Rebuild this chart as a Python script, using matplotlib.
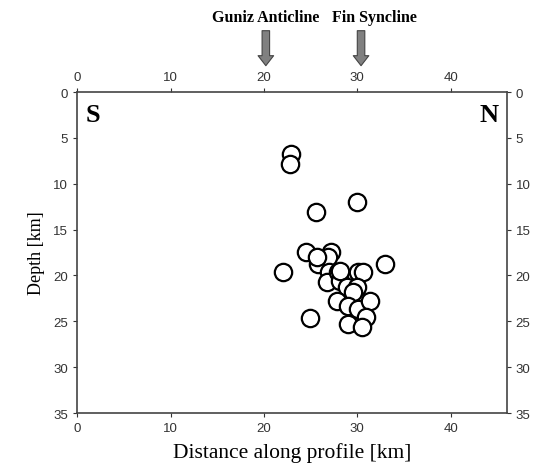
"""
Perfil sismico S-N: profundidad vs distancia
"""
import matplotlib
matplotlib.use('Agg')
import matplotlib.pyplot as plt

# Datos: eventos (distancia a lo largo del perfil, profundidad)
dist_km = [22.87, 22.8, 25.55, 29.95, 22.0, 24.94, 32.98, 24.51, 27.16, 25.83,
           26.9, 25.66, 27.0, 26.73, 27.97, 28.16, 30.12, 30.59, 28.16, 28.87,
           29.95, 29.58, 27.8, 29.05, 30.12, 31.37, 30.94, 29.05, 30.48]
depth_km = [6.76, 7.85, 13.05, 11.96, 19.66, 24.65, 18.76, 17.48, 17.48, 18.76,
            18.03, 18.03, 19.66, 20.75, 19.66, 20.58, 19.66, 19.6, 19.49, 21.3,
            21.3, 21.84, 22.76, 23.3, 23.66, 22.76, 24.57, 25.3, 25.66]

structures = ['Guniz Anticline', 'Fin Syncline']
structure_x = [20.2, 30.4]
label_x = [20.2, 27.3]
label_ha = ['center', 'left']

xticks = [0, 10, 20, 30, 40]
yticks = [0, 5, 10, 15, 20, 25, 30, 35]

serif = 'Liberation Serif'
sans = 'Liberation Sans'

fig = plt.figure(figsize=(5.39, 4.77), dpi=100)
ax = fig.add_axes([0.1434, 0.132, 0.7966, 0.673])

ax.plot(dist_km, depth_km, linestyle='none', marker='o', markersize=12.5,
        markerfacecolor='white', markeredgecolor='black', markeredgewidth=1.6)

ax.set_xlim(0, 46)
ax.set_ylim(35, 0)
ax.set_xticks(xticks)
ax.set_yticks(yticks)
ax.tick_params(direction='out', length=3, width=0.8, labelsize=9.5, colors='#333333',
               top=True, right=True, labeltop=True, labelright=True)
for lab in ax.get_xticklabels() + ax.get_yticklabels():
    lab.set_fontfamily(sans)
for sp in ax.spines.values():
    sp.set_linewidth(1.2)
    sp.set_color('#444444')

ax.set_xlabel('Distance along profile [km]', fontsize=15.5, fontfamily=serif, labelpad=6)
ax.set_ylabel('Depth [km]', fontsize=13, fontfamily=serif, labelpad=6)

ax.text(0.9, 2.5, 'S', fontsize=19, fontweight='bold', fontfamily=serif,
        ha='left', va='center')
ax.text(45.1, 2.5, 'N', fontsize=19, fontweight='bold', fontfamily=serif,
        ha='right', va='center')

trans = ax.get_xaxis_transform()
for name, xs, xl, ha in zip(structures, structure_x, label_x, label_ha):
    ax.annotate('', xy=(xs, 1.082), xytext=(xs, 1.191), xycoords=trans,
                textcoords=trans, annotation_clip=False,
                arrowprops=dict(arrowstyle='simple,head_width=0.56,head_length=0.36,tail_width=0.27',
                                mutation_scale=20, fc='#808080', ec='#444444', lw=0.8,
                                shrinkA=0, shrinkB=0))
    ax.text(xl, 1.233, name, transform=trans, fontsize=11.5, fontweight='bold',
            fontfamily=serif, ha=ha, va='center')

plt.savefig('out.png', dpi=100)
